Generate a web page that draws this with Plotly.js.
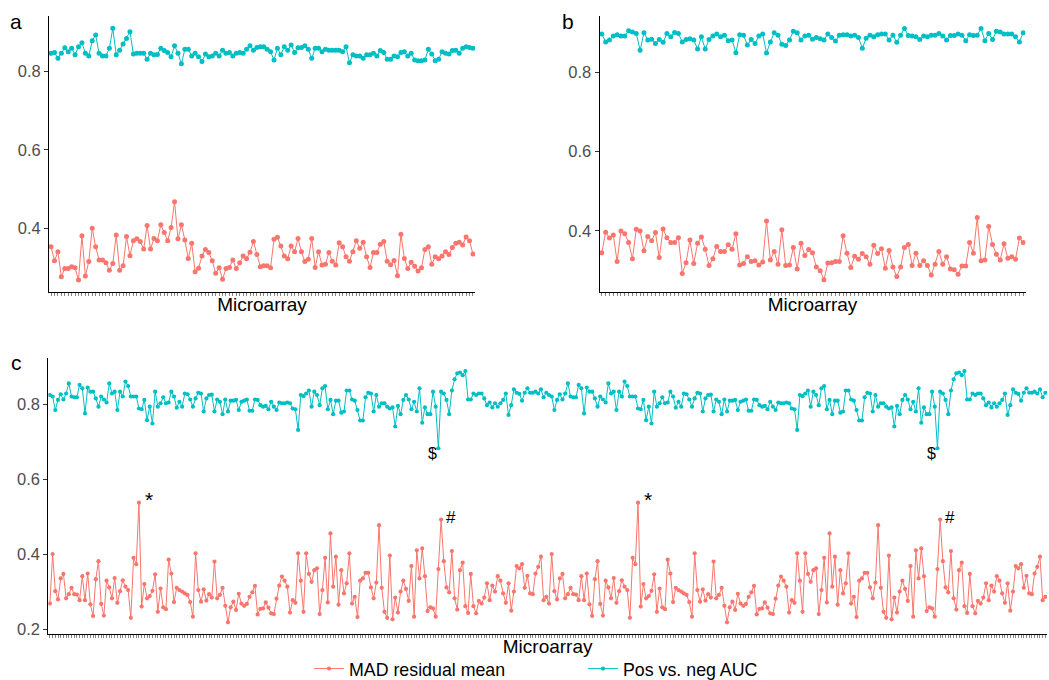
<!DOCTYPE html>
<html>
<head>
<meta charset="utf-8">
<script src="https://cdn.plot.ly/plotly-3.0.1.min.js"></script>
<style>
  html, body { margin: 0; padding: 0; background: #ffffff; }
  #chart { width: 1049px; height: 680px; }
</style>
</head>
<body>
<div id="chart"></div>
<script>
// Panel a: per-microarray values
const aMad = [0.353,0.317,0.340,0.276,0.297,0.297,0.302,0.299,0.268,0.381,
  0.278,0.315,0.400,0.353,0.319,0.319,0.312,0.293,0.310,0.383,
  0.293,0.304,0.379,0.330,0.368,0.373,0.366,0.347,0.407,0.347,
  0.374,0.368,0.409,0.389,0.368,0.402,0.468,0.373,0.409,0.370,
  0.323,0.362,0.289,0.298,0.329,0.346,0.338,0.317,0.285,0.299,
  0.270,0.297,0.300,0.319,0.297,0.312,0.329,0.322,0.339,0.366,
  0.333,0.302,0.304,0.304,0.299,0.372,0.377,0.355,0.329,0.322,
  0.355,0.340,0.374,0.340,0.315,0.321,0.374,0.300,0.340,0.306,
  0.308,0.338,0.316,0.306,0.363,0.353,0.327,0.316,0.340,0.368,
  0.349,0.364,0.327,0.300,0.338,0.338,0.359,0.366,0.316,0.307,
  0.318,0.279,0.385,0.323,0.297,0.313,0.303,0.291,0.299,0.346,
  0.353,0.308,0.327,0.322,0.329,0.340,0.333,0.351,0.362,0.364,
  0.357,0.378,0.368,0.334];
const aAuc = [0.847,0.849,0.834,0.847,0.861,0.851,0.860,0.843,0.864,0.874,
  0.847,0.840,0.879,0.894,0.847,0.840,0.840,0.860,0.911,0.843,
  0.855,0.871,0.885,0.902,0.845,0.847,0.847,0.847,0.832,0.847,
  0.843,0.844,0.860,0.854,0.849,0.838,0.866,0.847,0.820,0.857,
  0.857,0.840,0.847,0.838,0.826,0.845,0.838,0.840,0.847,0.840,
  0.855,0.847,0.849,0.840,0.847,0.849,0.847,0.857,0.866,0.855,
  0.862,0.864,0.864,0.857,0.851,0.830,0.860,0.843,0.864,0.855,
  0.868,0.849,0.861,0.862,0.866,0.857,0.834,0.860,0.860,0.851,
  0.857,0.855,0.855,0.855,0.855,0.851,0.864,0.823,0.843,0.840,
  0.840,0.834,0.843,0.843,0.847,0.840,0.854,0.849,0.832,0.832,
  0.840,0.838,0.849,0.851,0.840,0.847,0.830,0.828,0.828,0.830,
  0.857,0.845,0.828,0.832,0.851,0.847,0.845,0.854,0.855,0.847,
  0.860,0.864,0.862,0.860];

// Panel b
const bMad = [0.345,0.397,0.382,0.390,0.323,0.400,0.393,0.371,0.330,0.404,
  0.400,0.350,0.386,0.375,0.396,0.333,0.405,0.383,0.371,0.371,
  0.383,0.293,0.320,0.377,0.318,0.369,0.385,0.354,0.313,0.330,
  0.361,0.348,0.348,0.365,0.354,0.393,0.314,0.318,0.335,0.323,
  0.325,0.314,0.322,0.425,0.327,0.348,0.316,0.403,0.313,0.314,
  0.358,0.304,0.369,0.338,0.353,0.345,0.309,0.300,0.277,0.319,
  0.320,0.323,0.323,0.388,0.344,0.308,0.336,0.329,0.343,0.335,
  0.316,0.364,0.343,0.355,0.306,0.351,0.309,0.285,0.309,0.358,
  0.366,0.313,0.344,0.313,0.325,0.313,0.289,0.316,0.348,0.316,
  0.335,0.304,0.302,0.291,0.312,0.312,0.371,0.344,0.434,0.325,
  0.327,0.411,0.366,0.341,0.327,0.368,0.331,0.335,0.329,0.382,
  0.371];
const bAuc = [0.896,0.876,0.881,0.891,0.894,0.891,0.891,0.904,0.901,0.897,
  0.855,0.899,0.881,0.883,0.872,0.882,0.875,0.897,0.889,0.900,
  0.897,0.876,0.882,0.884,0.881,0.858,0.889,0.858,0.882,0.891,
  0.896,0.889,0.893,0.879,0.881,0.849,0.894,0.893,0.868,0.882,
  0.872,0.891,0.896,0.848,0.876,0.899,0.893,0.870,0.867,0.881,
  0.903,0.899,0.881,0.891,0.893,0.883,0.887,0.884,0.881,0.896,
  0.887,0.878,0.893,0.894,0.894,0.891,0.893,0.887,0.860,0.885,
  0.893,0.889,0.894,0.896,0.896,0.881,0.893,0.875,0.893,0.910,
  0.892,0.891,0.889,0.882,0.891,0.889,0.893,0.893,0.897,0.891,
  0.881,0.892,0.892,0.896,0.893,0.879,0.894,0.892,0.893,0.910,
  0.879,0.897,0.882,0.903,0.901,0.896,0.896,0.896,0.889,0.876,
  0.899];

// Panel c: one run of microarrays; the panel shows this run twice in a row
const cMad = [0.268,0.400,0.301,0.279,0.335,0.347,0.282,0.293,0.310,0.293,
  0.292,0.277,0.341,0.277,0.348,0.266,0.235,0.333,0.381,0.267,
  0.236,0.329,0.311,0.282,0.336,0.270,0.301,0.330,0.313,0.304,
  0.230,0.390,0.373,0.537,0.260,0.320,0.282,0.288,0.302,0.346,
  0.246,0.308,0.258,0.253,0.385,0.348,0.272,0.310,0.304,0.300,
  0.295,0.291,0.272,0.233,0.402,0.304,0.273,0.306,0.276,0.293,
  0.284,0.380,0.282,0.291,0.310,0.262,0.218,0.258,0.273,0.251,
  0.294,0.268,0.262,0.267,0.286,0.298,0.315,0.239,0.254,0.255,
  0.271,0.257,0.242,0.240,0.281,0.316,0.340,0.329,0.313,0.244,
  0.277,0.270,0.402,0.329,0.246,0.402,0.347,0.326,0.357,0.362,
  0.240,0.304,0.390,0.271,0.455,0.313,0.393,0.265,0.357,0.295,
  0.322,0.402,0.268,0.286,0.232,0.329,0.335,0.350,0.350,0.311,
  0.282,0.324,0.477,0.310,0.246,0.230,0.396,0.226,0.284,0.244,
  0.300,0.329,0.307,0.275,0.368,0.233,0.410,0.335,0.415,0.341,
  0.248,0.258,0.255,0.233,0.360,0.492,0.381,0.311,0.298,0.408,
  0.282,0.252,0.357,0.377,0.261,0.243,0.347,0.261,0.242,0.275,
  0.268,0.284,0.322,0.277,0.316,0.300,0.341,0.329,0.295,0.270,
  0.322,0.249,0.300,0.368,0.362,0.373,0.310,0.342,0.295,0.293,
  0.348,0.366,0.393,0.277,0.286];
const cAuc = [0.824,0.820,0.784,0.811,0.826,0.812,0.828,0.855,0.820,0.818,
  0.818,0.851,0.842,0.775,0.844,0.833,0.833,0.815,0.793,0.820,
  0.812,0.804,0.855,0.828,0.833,0.784,0.833,0.820,0.860,0.848,
  0.820,0.820,0.820,0.788,0.786,0.811,0.757,0.793,0.748,0.833,
  0.793,0.802,0.818,0.802,0.804,0.833,0.820,0.790,0.806,0.793,
  0.828,0.826,0.812,0.793,0.815,0.830,0.828,0.780,0.815,0.824,
  0.825,0.780,0.812,0.806,0.773,0.812,0.780,0.809,0.809,0.811,
  0.784,0.806,0.809,0.812,0.782,0.782,0.812,0.811,0.797,0.793,
  0.795,0.786,0.806,0.793,0.784,0.804,0.802,0.802,0.804,0.802,
  0.788,0.786,0.731,0.824,0.821,0.828,0.836,0.793,0.833,0.824,
  0.797,0.842,0.848,0.786,0.811,0.773,0.809,0.809,0.777,0.780,
  0.836,0.836,0.812,0.809,0.784,0.756,0.756,0.818,0.830,0.828,
  0.780,0.824,0.793,0.802,0.802,0.793,0.788,0.791,0.740,0.795,
  0.773,0.811,0.824,0.812,0.786,0.806,0.780,0.842,0.750,0.791,
  0.773,0.773,0.833,0.793,0.682,0.833,0.828,0.811,0.773,0.836,
  0.866,0.882,0.884,0.877,0.888,0.812,0.812,0.828,0.824,0.828,
  0.828,0.815,0.797,0.804,0.791,0.802,0.793,0.802,0.811,0.828,
  0.771,0.797,0.839,0.830,0.827,0.809,0.830,0.842,0.830,0.830,
  0.833,0.828,0.839,0.818,0.830];

// Flagged microarrays in panel c (1-based position within one run)
const flagAuc = [{pos: 145, label: '$'}];
const flagMad = [{pos: 34, label: '*'}, {pos: 146, label: '#'}];

const seriesNames = ['MAD residual mean', 'Pos vs. neg AUC'];
const seriesColors = ['#F8766D', '#00BFC4'];

const cMadAll = cMad.concat(cMad);
const cAucAll = cAuc.concat(cAuc);

function positions(n) { return Array.from({length: n}, (_, k) => k + 1); }

function pair(mad, auc, xa, ya, markerSize, showLegend) {
  const x = positions(mad.length);
  return [mad, auc].map((y, s) => ({
    type: 'scatter', mode: 'lines+markers',
    x: x, y: y, xaxis: xa, yaxis: ya,
    name: seriesNames[s], legendgroup: seriesNames[s], showlegend: showLegend,
    line: {color: seriesColors[s], width: 1},
    marker: {color: seriesColors[s], size: markerSize},
    hoverinfo: 'x+y'
  }));
}

const traces = [].concat(
  pair(aMad, aAuc, 'x', 'y', 5, false),
  pair(bMad, bAuc, 'x2', 'y2', 5, false),
  pair(cMadAll, cAucAll, 'x3', 'y3', 4.2, true)
);

const W = 1049, H = 680;
const px = v => v / W;
const py = v => 1 - v / H;
const FONT = 'Liberation Sans, Arial, sans-serif';

function xAxis(n, left, right, anchor) {
  return {
    anchor: anchor,
    domain: [px(left), px(right)], range: [0.4, n + 0.6],
    showgrid: false, zeroline: false, showline: true,
    linecolor: '#000000', linewidth: 1,
    ticks: 'outside', ticklen: 3, tickwidth: 0.6, tickcolor: '#333333',
    tickmode: 'linear', tick0: 1, dtick: 1, showticklabels: false,
    title: {text: 'Microarray', font: {family: FONT, size: 19, color: '#000000'}, standoff: 2}
  };
}
function yAxis(top, bottom, range, vals, anchor) {
  return {
    anchor: anchor,
    domain: [py(bottom), py(top)], range: range,
    showgrid: false, zeroline: false, showline: true,
    linecolor: '#000000', linewidth: 1,
    ticks: 'outside', ticklen: 4, tickwidth: 1, tickcolor: '#333333',
    tickmode: 'array', tickvals: vals, ticktext: vals.map(v => v.toFixed(1)),
    tickfont: {family: FONT, size: 16.5, color: '#4D4D4D'}
  };
}

const annotations = [
  {text: 'a', x: px(16), y: py(22)},
  {text: 'b', x: px(568), y: py(22)},
  {text: 'c', x: px(16), y: py(362)}
].map(a => Object.assign(a, {
  xref: 'paper', yref: 'paper', showarrow: false, xanchor: 'center', yanchor: 'middle',
  font: {family: FONT, size: 21, color: '#000000'}
}));

[0, cMad.length].forEach(offset => {
  flagAuc.forEach(f => annotations.push({
    x: f.pos + offset, y: cAuc[f.pos - 1], xref: 'x3', yref: 'y3', text: f.label,
    showarrow: false, xshift: -6, yshift: -5,
    font: {family: FONT, size: 16, color: '#000000'}
  }));
  flagMad.forEach(f => annotations.push({
    x: f.pos + offset, y: cMad[f.pos - 1], xref: 'x3', yref: 'y3', text: f.label,
    showarrow: false, xshift: 10, yshift: f.label === '*' ? 3 : 2,
    font: {family: FONT, size: f.label === '*' ? 21 : 17, color: '#000000'}
  }));
});

const layout = {
  width: W, height: H,
  margin: {l: 0, r: 0, t: 0, b: 0, autoexpand: false},
  paper_bgcolor: '#ffffff', plot_bgcolor: '#ffffff',
  font: {family: FONT},
  xaxis: xAxis(aMad.length, 49, 475, 'y'),
  yaxis: yAxis(15.7, 291.7, [0.238, 0.943], [0.4, 0.6, 0.8], 'x'),
  xaxis2: xAxis(bMad.length, 599.5, 1025.5, 'y2'),
  yaxis2: yAxis(15.7, 291.7, [0.247, 0.942], [0.4, 0.6, 0.8], 'x2'),
  xaxis3: xAxis(cMadAll.length, 48.3, 1047, 'y3'),
  yaxis3: yAxis(358, 634.3, [0.186, 0.9227], [0.2, 0.4, 0.6, 0.8], 'x3'),
  showlegend: true,
  legend: {
    orientation: 'h', x: px(309), xanchor: 'left', y: py(669), yanchor: 'middle',
    font: {family: FONT, size: 17.8, color: '#000000'},
    itemwidth: 30, entrywidth: 229, bgcolor: 'rgba(0,0,0,0)', borderwidth: 0
  },
  annotations: annotations
};

Plotly.newPlot('chart', traces, layout, {staticPlot: true, displayModeBar: false});
</script>
</body>
</html>
